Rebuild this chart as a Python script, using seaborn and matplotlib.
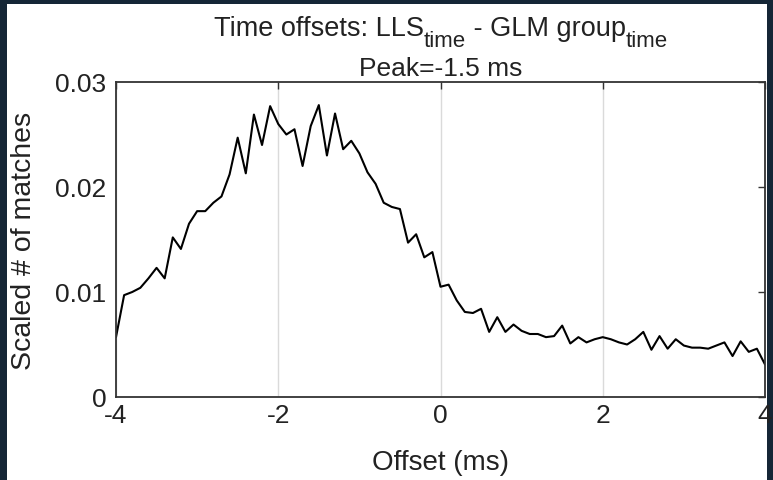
import numpy as np
import pandas as pd
import matplotlib
matplotlib.use("Agg")
import matplotlib.pyplot as plt
from matplotlib.patches import Rectangle
import seaborn as sns

# offsets in ms, 0.1 ms bins
offset_ms = np.round(np.arange(-40, 41) / 10, 1)
scaled_matches = [
    0.0057, 0.0097, 0.0100, 0.0104, 0.0113, 0.0123, 0.0113, 0.0152, 0.0141, 0.0165,
    0.0177, 0.0177, 0.0185, 0.0191, 0.0212, 0.0247, 0.0213, 0.0269, 0.0240, 0.0277,
    0.0260, 0.0250, 0.0255, 0.0220, 0.0258, 0.0278, 0.0230, 0.0270, 0.0236, 0.0244,
    0.0232, 0.0214, 0.0203, 0.0185, 0.0181, 0.0179, 0.0147, 0.0155, 0.0133, 0.0138,
    0.0105, 0.0107, 0.0092, 0.0081, 0.0080, 0.0084, 0.0062, 0.0076, 0.0062, 0.0069,
    0.0063, 0.0060, 0.0060, 0.0057, 0.0058, 0.0068, 0.0051, 0.0057, 0.0052, 0.0055,
    0.0057, 0.0055, 0.0052, 0.0050, 0.0055, 0.0062, 0.0045, 0.0058, 0.0046, 0.0055,
    0.0049, 0.0047, 0.0047, 0.0046, 0.0049, 0.0052, 0.0039, 0.0053, 0.0043, 0.0046,
    0.0031,
]
x_ticks = [-4, -2, 0, 2, 4]
y_ticks = [0, 0.01, 0.02, 0.03]
y_tick_labels = ["0", "0.01", "0.02", "0.03"]
# title line 1 pieces: (text, is_subscript)
title_parts = [("Time offsets: LLS", False), ("time", True),
               (" - GLM group", False), ("time", True)]

df = pd.DataFrame({"offset": offset_ms, "matches": scaled_matches})

sns.set_theme(style="white")
plt.rcParams["font.family"] = ["Liberation Sans", "DejaVu Sans"]

txt = "#222222"
fig = plt.figure(figsize=(7.73, 4.81), dpi=100)
fig.patch.set_facecolor("#152636")
# white page inside the dark frame
fig.add_artist(Rectangle((7 / 773, 0), 760 / 773, 476 / 481,
                         transform=fig.transFigure, facecolor="white",
                         edgecolor="none", zorder=-10))
ax = fig.add_axes([116 / 773, 83 / 481, 649 / 773, 315 / 481])
ax.patch.set_facecolor("white")

sns.lineplot(data=df, x="offset", y="matches", ax=ax, color="black", lw=1.5)

ax.set_xlim(-4, 4)
ax.set_ylim(0, 0.03)
ax.set_xticks(x_ticks)
ax.set_xticklabels([str(t) for t in x_ticks])
ax.set_yticks(y_ticks)
ax.set_yticklabels(y_tick_labels)
ax.xaxis.grid(True, color="#dadada", lw=1)
ax.yaxis.grid(False)
ax.tick_params(direction="in", length=5, width=1, color="#333333",
               top=True, right=True, labelsize=19, labelcolor=txt)
ax.tick_params(axis="x", pad=4)
ax.tick_params(axis="y", pad=7)
for sp in ax.spines.values():
    sp.set_color("#333333")
    sp.set_linewidth(1.3)

ax.set_title("Peak=-1.5 ms", fontsize=19, color=txt, pad=5)
ax.set_xlabel("Offset (ms)", fontsize=20, color=txt, labelpad=16)
ax.set_ylabel("Scaled # of matches", fontsize=20.5, color=txt, labelpad=13)

# first title line with MATLAB-style large, low subscripts
first = fig.text(0.3, 1 - 36 / 481, title_parts[0][0], fontsize=19.5,
                 color=txt, ha="left", va="baseline")
pieces = [first]
prev, base = first, first
for word, sub in title_parts[1:]:
    t = ax.annotate(word, xy=(1, 0), xycoords=(prev, base),
                    xytext=(0, -7 if sub else 0), textcoords="offset points",
                    fontsize=16 if sub else 19.5, color=txt,
                    ha="left", va="bottom", annotation_clip=False)
    pieces.append(t)
    prev = t

# centre the whole first line over the axes
fig.canvas.draw()
r = fig.canvas.get_renderer()
left = pieces[0].get_window_extent(r).x0
right = pieces[-1].get_window_extent(r).x1
shift = 441 - (left + right) / 2
first.set_x((left + shift) / fig.bbox.width)

fig.savefig("out.png", dpi=100, facecolor=fig.get_facecolor())
